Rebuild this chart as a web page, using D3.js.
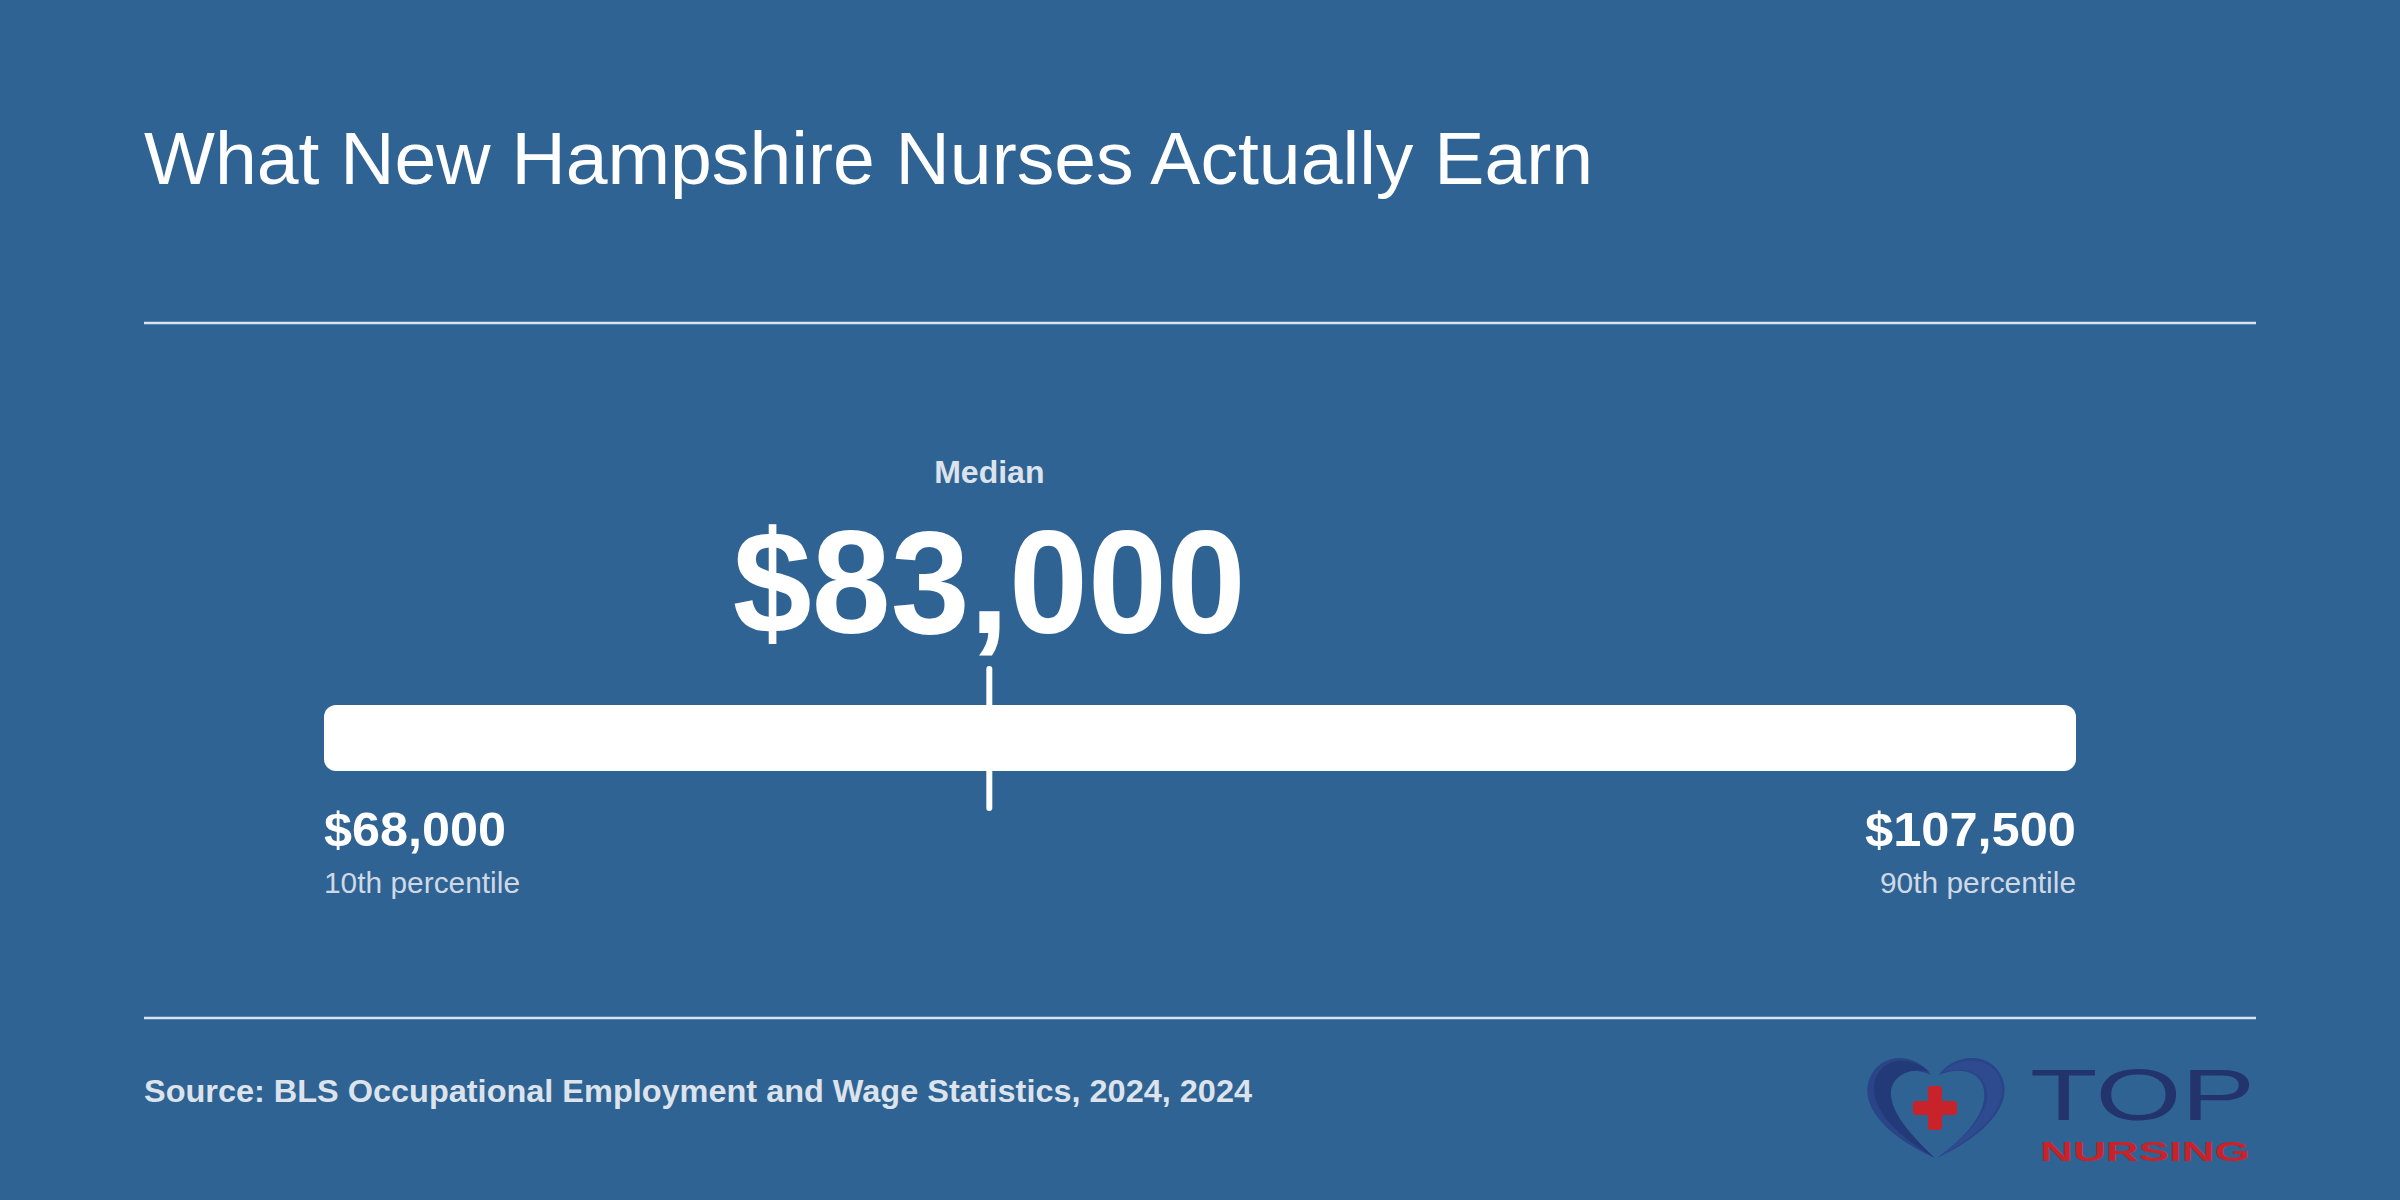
<!DOCTYPE html>
<html>
<head>
<meta charset="utf-8">
<script src="https://cdn.jsdelivr.net/npm/d3@7"></script>
<style>
  html, body { margin: 0; padding: 0; background: #2f6393; }
  svg { display: block; }
  text { font-family: "Liberation Sans", Arial, Helvetica, sans-serif; }
</style>
</head>
<body>
<svg id="chart" width="2400" height="1200"></svg>
<script>
// ---- Data ----
const title = "What New Hampshire Nurses Actually Earn";
const source = "Source: BLS Occupational Employment and Wage Statistics, 2024, 2024";
const percentileLabels = ["10th percentile", "Median", "90th percentile"];
const wages = [68000, 83000, 107500];

// ---- Setup ----
const W = 2400, H = 1200;
const svg = d3.select("#chart");
svg.append("rect").attr("width", W).attr("height", H).attr("fill", "#2f6393");

const fmt = d => "$" + d3.format(",")(d);
const x = d3.scaleLinear().domain([wages[0], wages[2]]).range([324, 2076]);

function fitText(sel, target) {
  sel.each(function () {
    const len = this.getComputedTextLength();
    if (Math.abs(len - target) > 2) {
      d3.select(this).attr("textLength", target).attr("lengthAdjust", "spacingAndGlyphs");
    }
  });
  return sel;
}

// Title
fitText(svg.append("text")
  .attr("x", 144).attr("y", 184)
  .attr("fill", "#ffffff")
  .attr("font-size", 75)
  .text(title), 1449);

// Separator lines
[323, 1018].forEach(y => {
  svg.append("line")
    .attr("x1", 144).attr("x2", 2256)
    .attr("y1", y).attr("y2", y)
    .attr("stroke", "#dbe3ee").attr("stroke-width", 2.5);
});

// Range bar
const barY = 705, barH = 66;
svg.append("rect")
  .attr("x", x(wages[0])).attr("y", barY)
  .attr("width", x(wages[2]) - x(wages[0])).attr("height", barH)
  .attr("rx", 12).attr("ry", 12)
  .attr("fill", "#ffffff");

// Median tick
svg.append("line")
  .attr("x1", x(wages[1])).attr("x2", x(wages[1]))
  .attr("y1", 669).attr("y2", 808)
  .attr("stroke", "#ffffff").attr("stroke-width", 6)
  .attr("stroke-linecap", "round");

// Median label + value
fitText(svg.append("text")
  .attr("x", x(wages[1])).attr("y", 483)
  .attr("text-anchor", "middle")
  .attr("fill", "#dce3ec").attr("font-weight", "bold")
  .attr("font-size", 32)
  .text(percentileLabels[1]), 109);

fitText(svg.append("text")
  .attr("x", x(wages[1])).attr("y", 633)
  .attr("text-anchor", "middle")
  .attr("fill", "#ffffff").attr("font-weight", "bold")
  .attr("font-size", 146)
  .text(fmt(wages[1])), 513);

// Ends
const ends = [
  { v: wages[0], label: percentileLabels[0], anchor: "start", w1: 182, w2: 196 },
  { v: wages[2], label: percentileLabels[2], anchor: "end", w1: 211, w2: 196 }
];
ends.forEach(e => {
  fitText(svg.append("text")
    .attr("x", x(e.v)).attr("y", 846)
    .attr("text-anchor", e.anchor)
    .attr("fill", "#ffffff").attr("font-weight", "bold")
    .attr("font-size", 48)
    .text(fmt(e.v)), e.w1);
  fitText(svg.append("text")
    .attr("x", x(e.v)).attr("y", 893)
    .attr("text-anchor", e.anchor)
    .attr("fill", "#cfd9e6")
    .attr("font-size", 29)
    .text(e.label), e.w2);
});

// Source
fitText(svg.append("text")
  .attr("x", 144).attr("y", 1102)
  .attr("fill", "#dde3ec").attr("font-weight", "bold")
  .attr("font-size", 32)
  .text(source), 1108);

// Logo
const logo = svg.append("g").attr("transform", "translate(1935,1108)");
// left lobe (outer lighter, inner darker)
logo.append("path")
  .attr("d", "M -4,-33 C -18,-55 -55,-58 -66,-28 C -74,-5 -55,25 0,50 C -38,22 -52,-2 -46,-22 C -40,-40 -18,-40 -4,-33 Z")
  .attr("fill", "#2a4488");
logo.append("path")
  .attr("d", "M -6,-36 C -22,-52 -52,-52 -60,-28 C -66,-6 -48,22 0,50 C -30,22 -46,0 -44,-18 C -40,-36 -20,-40 -6,-36 Z")
  .attr("fill", "#233a78");
// right lobe
logo.append("path")
  .attr("d", "M 4,-33 C 18,-55 58,-58 68,-28 C 76,-5 55,25 2,50 C 40,22 54,-2 48,-22 C 42,-40 18,-40 4,-33 Z")
  .attr("fill", "#2a4488");
logo.append("path")
  .attr("d", "M 8,-36 C 26,-54 60,-50 66,-26 C 72,-4 52,24 2,50 C 46,18 58,-6 50,-24 C 42,-40 22,-40 8,-36 Z")
  .attr("fill", "#2f4b90");
// cross
logo.append("rect").attr("x", -22).attr("y", -7).attr("width", 44).attr("height", 14).attr("rx", 3).attr("fill", "#c8232a");
logo.append("rect").attr("x", -7).attr("y", -22).attr("width", 14).attr("height", 44).attr("rx", 3).attr("fill", "#c8232a");

fitText(svg.append("text")
  .attr("x", 2030).attr("y", 1120)
  .attr("fill", "#23336b")
  .attr("font-size", 72)
  .text("TOP"), 225);
fitText(svg.append("text")
  .attr("x", 2040).attr("y", 1161)
  .attr("fill", "#c8232a").attr("font-weight", "bold")
  .attr("font-size", 28)
  .text("NURSING"), 210);
</script>
</body>
</html>
